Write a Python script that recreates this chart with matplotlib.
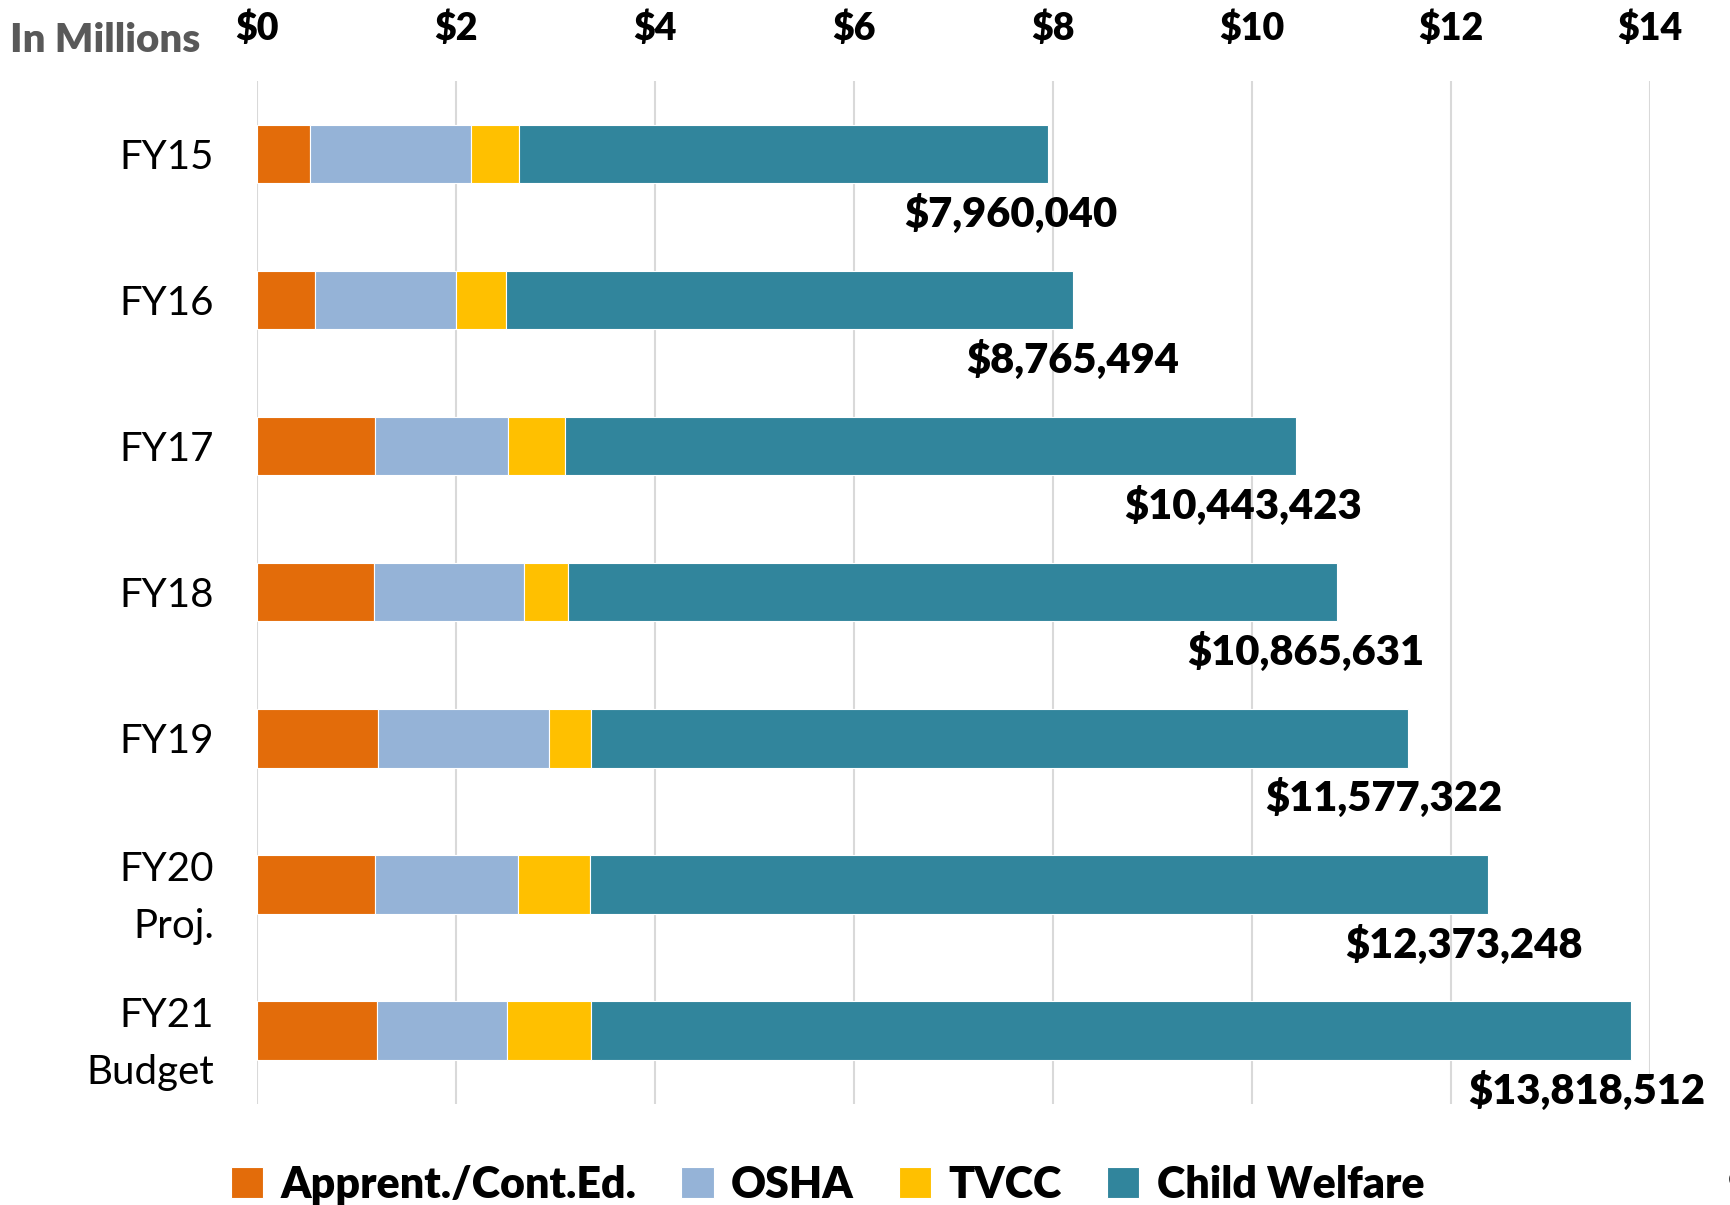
import numpy as np
import matplotlib.pyplot as plt

# Data (in $ millions)
years = ["FY15", "FY16", "FY17", "FY18", "FY19", "FY20\nProj.", "FY21\nBudget"]
apprent = [0.53, 0.58, 1.19, 1.18, 1.22, 1.19, 1.21]
osha = [1.62, 1.42, 1.33, 1.50, 1.72, 1.43, 1.30]
tvcc = [0.48, 0.50, 0.58, 0.45, 0.42, 0.73, 0.85]
child_welfare = [5.32, 5.70, 7.34, 7.73, 8.21, 9.02, 10.45]
total_labels = ["$7,960,040", "$8,765,494", "$10,443,423", "$10,865,631",
                "$11,577,322", "$12,373,248", "$13,818,512"]
series_names = ["Apprent./Cont.Ed.", "OSHA", "TVCC", "Child Welfare"]
colors = ["#E36C0A", "#95B3D7", "#FFC000", "#31859C"]

# how far left of the bar end each total label is centred (layout only)
label_shift = [0.37, 0.0, 0.53, 0.32, 0.24, 0.24, 0.44]

plt.rcParams['font.family'] = ['Lato', 'DejaVu Sans']

fig = plt.figure(figsize=(17.31, 12.05), dpi=100)
ax = fig.add_axes([0.1485, 0.084, 0.8045, 0.849])

y = np.arange(len(years))
series = [apprent, osha, tvcc, child_welfare]
left = np.zeros(len(years))
for vals, name, c in zip(series, series_names, colors):
    ax.barh(y, vals, left=left, height=0.4, color=c, label=name,
            edgecolor="white", linewidth=0.8, zorder=3)
    left = left + np.array(vals)

for i, (tot, lab) in enumerate(zip(left, total_labels)):
    ax.text(tot - label_shift[i], i + 0.41, lab, ha="center", va="center",
            fontsize=30, fontweight="heavy", color="black")

ax.set_xlim(0, 14)
ax.set_ylim(6.5, -0.5)
ax.set_xticks(np.arange(0, 15, 2))
ax.set_xticklabels([f"${v}" for v in range(0, 15, 2)])
ax.xaxis.tick_top()
ax.tick_params(axis="x", length=0, pad=25, labelsize=27)
for t in ax.get_xticklabels():
    t.set_fontweight("heavy")
ax.set_yticks(y)
ax.set_yticklabels(years, fontsize=29, linespacing=1.65)
ax.tick_params(axis="y", length=0, pad=31)
ax.grid(axis="x", color="#D9D9D9", linewidth=1.5, zorder=0)
for s in ax.spines.values():
    s.set_visible(False)

fig.text(0.006, 0.966, "In Millions", fontsize=29, fontweight="heavy",
         color="#595959", ha="left", va="center")

fig.legend(loc="center", bbox_to_anchor=(0.478, 0.017), ncol=4, frameon=False,
           prop={"size": 31, "weight": "heavy"}, handlelength=0.75,
           handleheight=0.75, handletextpad=0.4, columnspacing=1.05)

fig.text(0.998, 0.022, "c", fontsize=22, ha="left", va="center")

fig.savefig("out.png", dpi=100)
